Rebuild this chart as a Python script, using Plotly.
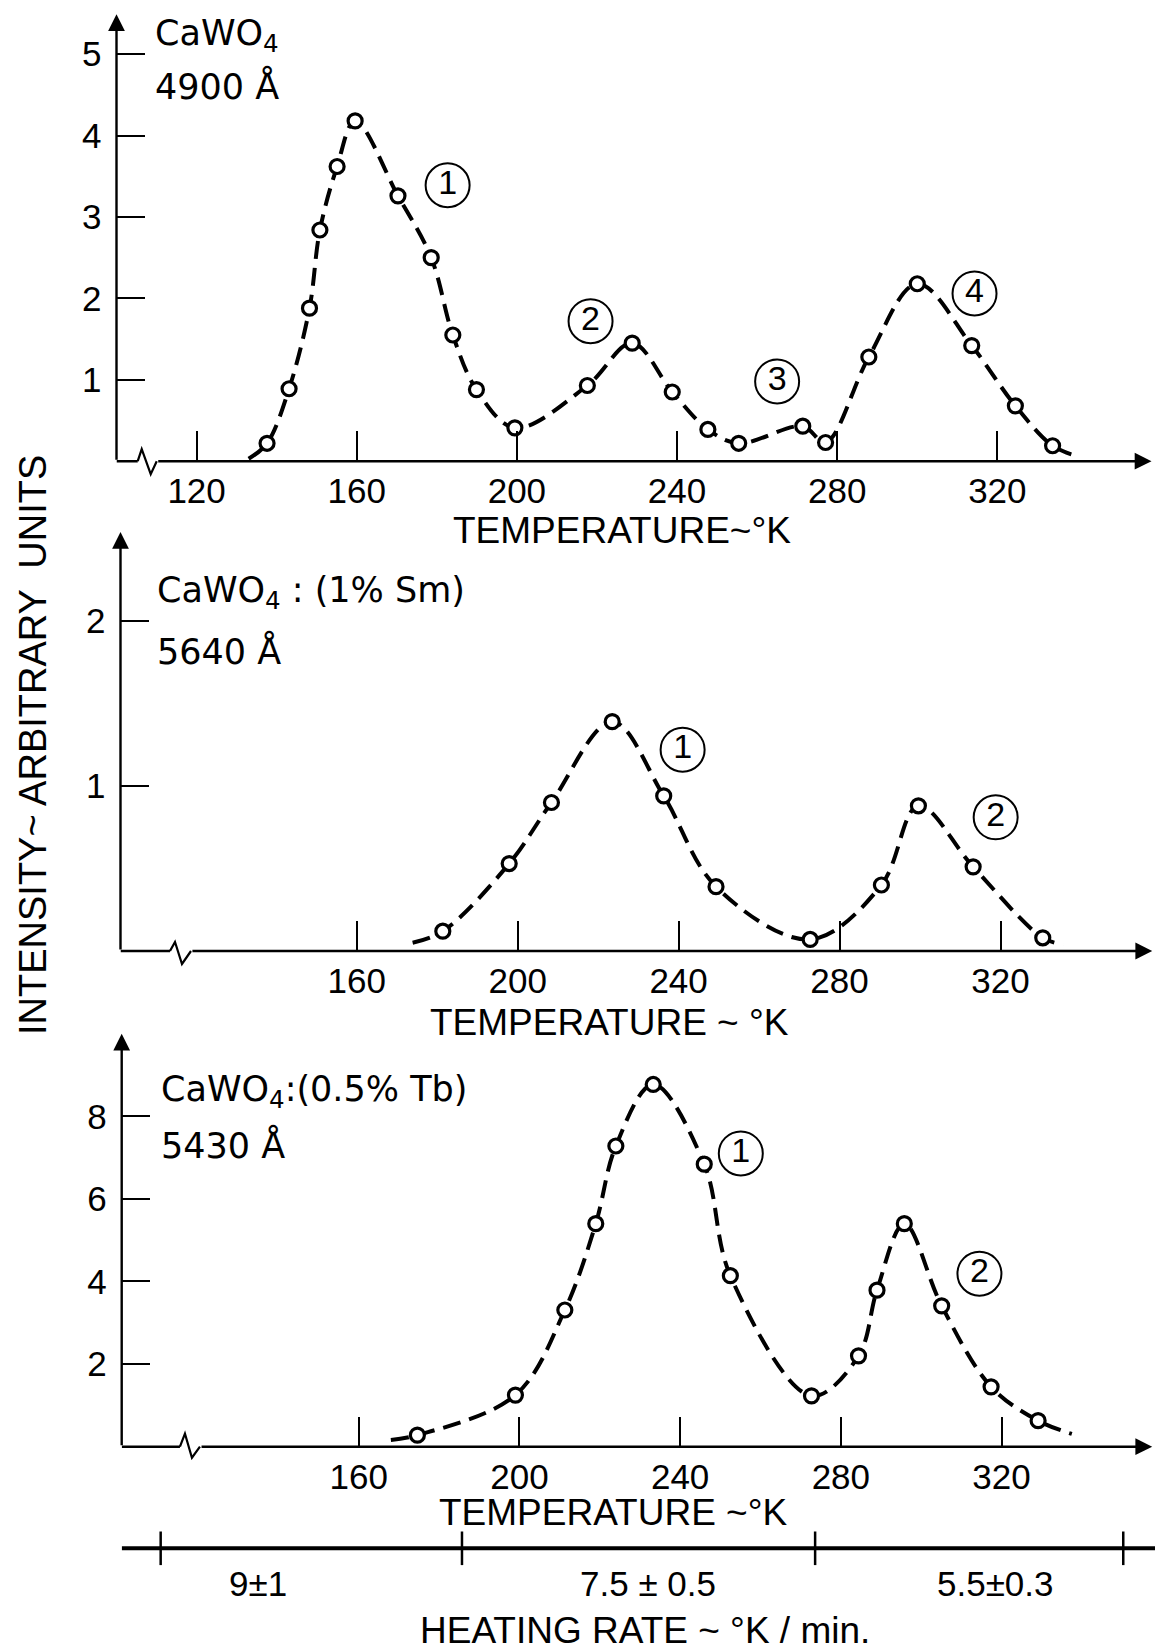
import plotly.graph_objects as go

W, H = 1155, 1652
FONT_T = "Liberation Sans, Arial, sans-serif"
FONT_L = "DejaVu Sans, Liberation Sans, sans-serif"

# ---------------- data: panel 1  CaWO4 4900 A ----------------
T1 = [137.6, 143.1, 148.2, 150.8, 155.1, 159.6, 170.3, 178.6, 184.0, 189.9, 199.5,
      217.6, 228.8, 238.8, 247.7, 255.4, 271.4, 277.1, 287.9, 300.0, 313.6, 324.5, 333.8]
I1 = [0.22, 0.89, 1.88, 2.84, 3.62, 4.18, 3.26, 2.50, 1.55, 0.88, 0.41,
      0.93, 1.45, 0.85, 0.39, 0.22, 0.43, 0.23, 1.28, 2.18, 1.42, 0.68, 0.19]
T1_ends = [133.0, 340.2]
I1_ends = [0.03, 0.06]
peak_lab1 = ["1", "2", "3", "4"]
peak_T1 = [182.7, 218.4, 265.0, 314.3]
peak_I1 = [3.39, 1.72, 0.98, 2.06]

# ---------------- data: panel 2  CaWO4:(1% Sm) 5640 A ----------------
T2 = [181.4, 197.9, 208.4, 223.5, 236.3, 249.3, 272.7, 290.4, 299.6, 313.2, 330.5]
I2 = [0.12, 0.53, 0.90, 1.39, 0.94, 0.39, 0.07, 0.40, 0.88, 0.51, 0.08]
T2_ends = [173.9, 335.6]
I2_ends = [0.05, 0.04]
peak_lab2 = ["1", "2"]
peak_T2 = [241.0, 318.8]
peak_I2 = [1.22, 0.81]

# ---------------- data: panel 3  CaWO4:(0.5% Tb) 5430 A ----------------
T3 = [174.6, 199.0, 211.3, 219.0, 224.0, 233.3, 246.0, 252.5, 272.7, 284.4, 289.0,
      295.8, 305.1, 317.4, 329.1]
I3 = [0.28, 1.25, 3.31, 5.40, 7.28, 8.77, 6.84, 4.14, 1.23, 2.20, 3.79,
      5.40, 3.41, 1.45, 0.63]
T3_ends = [168.0, 337.5]
I3_ends = [0.16, 0.31]
peak_lab3 = ["1", "2"]
peak_T3 = [255.1, 314.5]
peak_I3 = [7.10, 4.19]

# ---------------- heating-rate scale ----------------
rate_bounds = [110.7, 185.7, 273.6, 350.3]
rate_labels = ["9\u00b11", "7.5 \u00b1 0.5", "5.5\u00b10.3"]
rate_label_T = [134.9, 232.1, 318.4]

xticks1 = [120, 160, 200, 240, 280, 320]
xticks23 = [160, 200, 240, 280, 320]
yticks1 = [1, 2, 3, 4, 5]
yticks2 = [1, 2]
yticks3 = [2, 4, 6, 8]

fig = go.Figure()

panels = [
    dict(T=T1, I=I1, Te=T1_ends, Ie=I1_ends, pl=peak_lab1, pT=peak_T1, pI=peak_I1, xa="x", ya="y"),
    dict(T=T2, I=I2, Te=T2_ends, Ie=I2_ends, pl=peak_lab2, pT=peak_T2, pI=peak_I2, xa="x2", ya="y2"),
    dict(T=T3, I=I3, Te=T3_ends, Ie=I3_ends, pl=peak_lab3, pT=peak_T3, pI=peak_I3, xa="x3", ya="y3"),
]
for p in panels:
    cx = [p["Te"][0]] + p["T"] + [p["Te"][1]]
    cy = [p["Ie"][0]] + p["I"] + [p["Ie"][1]]
    fig.add_trace(go.Scatter(x=cx, y=cy, mode="lines", xaxis=p["xa"], yaxis=p["ya"],
                             line=dict(color="black", width=4, dash="18px,9px", shape="spline", smoothing=1.0),
                             hoverinfo="skip", showlegend=False, cliponaxis=False))
    fig.add_trace(go.Scatter(x=p["T"], y=p["I"], mode="markers", xaxis=p["xa"], yaxis=p["ya"],
                             marker=dict(symbol="circle", size=14, color="white",
                                         line=dict(color="black", width=3.2)),
                             showlegend=False, cliponaxis=False))
    fig.add_trace(go.Scatter(x=p["pT"], y=p["pI"], mode="markers+text", xaxis=p["xa"], yaxis=p["ya"],
                             text=p["pl"], textposition="middle center",
                             textfont=dict(family=FONT_T, size=34, color="black"),
                             marker=dict(symbol="circle-open", size=44, color="black",
                                         line=dict(color="black", width=2)),
                             showlegend=False, cliponaxis=False))

# heating-rate scale
fig.add_trace(go.Scatter(x=[rate_bounds[0] - 9.7, 358.2], y=[0, 0], mode="lines", xaxis="x4", yaxis="y4",
                         line=dict(color="black", width=4), showlegend=False, cliponaxis=False, hoverinfo="skip"))
fig.add_trace(go.Scatter(x=rate_bounds, y=[0] * len(rate_bounds), mode="markers", xaxis="x4", yaxis="y4",
                         marker=dict(symbol="line-ns", size=24, line=dict(color="black", width=2.5)),
                         showlegend=False, cliponaxis=False, hoverinfo="skip"))


def px(a, b):
    return [a / W, b / W]


def py(top, bottom):
    return [1 - bottom / H, 1 - top / H]


tickfont = dict(family=FONT_T, size=35, color="black")
common_x = dict(ticks="inside", ticklen=30, tickwidth=2.2, tickcolor="black", showline=False,
                showgrid=False, zeroline=False, tickfont=tickfont, ticklabelstandoff=6, fixedrange=True)
common_y = dict(ticks="inside", ticklen=28, tickwidth=2.2, tickcolor="black", showline=False,
                showgrid=False, zeroline=False, tickfont=tickfont, ticklabelstandoff=14, fixedrange=True)

dom_y1 = py(9.4, 461.2)
dom_y2 = py(522, 951)
dom_y3 = py(1025.4, 1446.7)

fig.update_layout(
    width=W, height=H, margin=dict(l=0, r=0, t=0, b=0),
    paper_bgcolor="white", plot_bgcolor="white", showlegend=False,
    xaxis=dict(domain=px(116.5, 1152.7), range=[100, 358.8], anchor="y", tickvals=xticks1, **common_x),
    yaxis=dict(domain=dom_y1, range=[0, 5.55], anchor="x", tickvals=yticks1, **common_y),
    xaxis2=dict(domain=px(120.5, 1153), range=[101.3, 357.9], anchor="y2", tickvals=xticks23, **common_x),
    yaxis2=dict(domain=dom_y2, range=[0, 2.6], anchor="x2", tickvals=yticks2, **common_y),
    xaxis3=dict(domain=px(121.7, 1153), range=[101.0, 357.7], anchor="y3", tickvals=xticks23, **common_x),
    yaxis3=dict(domain=dom_y3, range=[0, 10.2], anchor="x3", tickvals=yticks3, **common_y),
    xaxis4=dict(domain=px(121.7, 1155), range=[101.0, 358.2], anchor="y4", visible=False, fixedrange=True),
    yaxis4=dict(domain=py(1498.3, 1598.3), range=[-1, 1], anchor="x4", visible=False, fixedrange=True),
)

ann = []
shapes = []
axis_info = [
    # xa, ya, y-domain bottom, x0, ytop, xend, break_start, break_path, break_end
    ("x", "y", dom_y1[0], 100.0, 5.49, 358.5, 105.3, "M0,0 L4,12 L13,-13 L19,0", 110.05),
    ("x2", "y2", dom_y2[0], 101.3, 2.54, 357.7, 113.6, "M0,0 L5,9 L12,-13 L21,0", 118.8),
    ("x3", "y3", dom_y3[0], 101.0, 10.0, 357.5, 115.5, "M0,0 L5,13 L12,-11 L20,0", 120.5),
]
for xa, ya, yb, x0, ytop, xend, bs, path, be in axis_info:
    # y axis with arrow
    ann.append(dict(x=x0, y=ytop, ax=x0, ay=0, xref=xa, yref=ya, axref=xa, ayref=ya, text="",
                    showarrow=True, arrowhead=2, arrowsize=1.4, arrowwidth=2.4, arrowcolor="black",
                    standoff=0, startstandoff=0))
    # x axis with arrow
    ann.append(dict(x=xend, y=0, ax=be, ay=0, xref=xa, yref=ya, axref=xa, ayref=ya, text="",
                    showarrow=True, arrowhead=2, arrowsize=1.4, arrowwidth=2.4, arrowcolor="black",
                    standoff=0, startstandoff=0))
    shapes.append(dict(type="line", xref=xa, yref="paper", x0=x0, x1=bs, y0=yb, y1=yb,
                       line=dict(color="black", width=2.4)))
    shapes.append(dict(type="path", xref=xa, yref="paper", xsizemode="pixel", ysizemode="pixel",
                       xanchor=bs, yanchor=yb, path=path, line=dict(color="black", width=2.2)))

# sample labels
lab_font = dict(family=FONT_L, size=35, color="black")
samples = [
    ("x", "y", 109.1, 5.23, "CaWO<sub>4</sub>", 4.61, "4900 \u00c5"),
    ("x2", "y2", 109.9, 2.17, "CaWO<sub>4</sub> : (1% Sm)", 1.82, "5640 \u00c5"),
    ("x3", "y3", 110.2, 8.60, "CaWO<sub>4</sub>:(0.5% Tb)", 7.30, "5430 \u00c5"),
]
for xa, ya, xl, y1, t1, y2, t2 in samples:
    ann.append(dict(x=xl, y=y1, xref=xa, yref=ya, text=t1, showarrow=False, xanchor="left",
                    yanchor="middle", font=lab_font))
    ann.append(dict(x=xl, y=y2, xref=xa, yref=ya, text=t2, showarrow=False, xanchor="left",
                    yanchor="middle", font=lab_font))

title_font = dict(family=FONT_T, size=37, color="black")
titles = [(622, 530, "TEMPERATURE~\u00b0K"), (609, 1022, "TEMPERATURE ~ \u00b0K"),
          (613, 1512, "TEMPERATURE ~\u00b0K")]
for xc, yc, t in titles:
    ann.append(dict(x=xc / W, y=1 - yc / H, xref="paper", yref="paper", text=t, showarrow=False,
                    xanchor="center", yanchor="middle", font=title_font))

# y title
ann.append(dict(x=33 / W, y=1 - 745 / H, xref="paper", yref="paper",
                text="INTENSITY~ ARBITRARY  UNITS", textangle=-90, showarrow=False,
                xanchor="center", yanchor="middle",
                font=dict(family=FONT_T, size=38, color="black")))

# heating-rate labels
for t, lt in zip(rate_labels, rate_label_T):
    ann.append(dict(x=lt, y=-0.7, xref="x4", yref="y4", text=t, showarrow=False,
                    xanchor="center", yanchor="middle",
                    font=dict(family=FONT_T, size=35, color="black")))
ann.append(dict(x=645 / W, y=1 - 1630 / H, xref="paper", yref="paper",
                text="HEATING RATE ~ \u00b0K / min.", showarrow=False,
                xanchor="center", yanchor="middle", borderpad=0,
                font=dict(family=FONT_T, size=37, color="black")))

fig.update_layout(annotations=ann, shapes=shapes)
fig.write_html("out.html")
